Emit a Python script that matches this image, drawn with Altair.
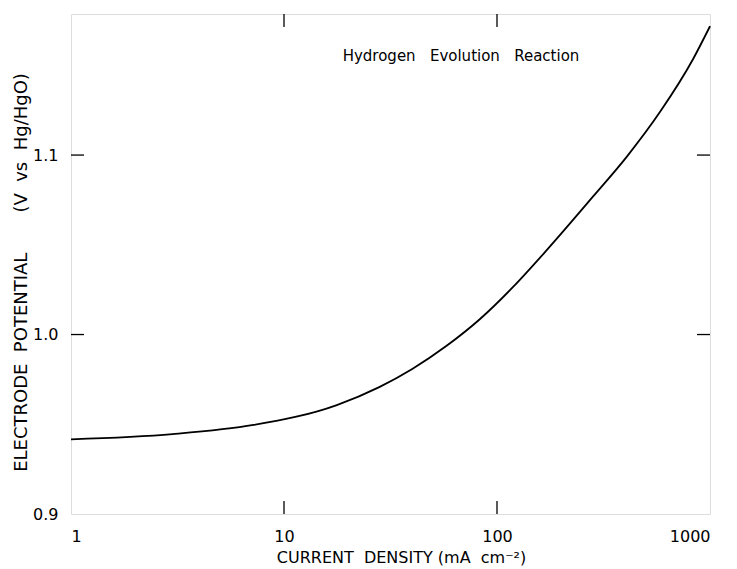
import altair as alt
import pandas as pd

# Curve (current density mA/cm2, potential V vs Hg/HgO)
current = [1, 3, 7.2, 17.7, 28, 40, 58, 83, 119, 172, 282, 408, 583, 832, 1000]
potential = [0.9416, 0.9445, 0.9496, 0.9607, 0.9707, 0.9808, 0.9937, 1.0085,
             1.0265, 1.0473, 1.0768, 1.0993, 1.1241, 1.1534, 1.1718]

x_tick_values = [1, 10, 100, 1000]
y_tick_values = [0.9, 1.0, 1.1]
x_inner_ticks = [10, 100]
y_inner_ticks = [1.0, 1.1]

NB = "\u00a0"
annotation = f"Hydrogen{NB*3}Evolution{NB*3}Reaction"
x_title = f"CURRENT{NB*2}DENSITY{NB}(mA{NB*2}cm\u207b\u00b2)"
y_title = (f"ELECTRODE{NB*2}POTENTIAL" + NB * 7 + f"(V{NB*2}vs{NB*2}Hg/HgO)")

W, H = 639, 500
FONT = "DejaVu Sans"

df = pd.DataFrame({"current": current, "potential": potential})
xt = pd.DataFrame({"x": x_inner_ticks})
yt = pd.DataFrame({"y": y_inner_ticks})

xscale = alt.Scale(type="log", domain=[1, 1000], nice=False)
yscale = alt.Scale(domain=[0.9, 1.1786], nice=False, zero=False)

line = alt.Chart(df).mark_line(color="black", strokeWidth=1.8, interpolate="monotone").encode(
    x=alt.X("current:Q", scale=xscale,
            axis=alt.Axis(values=x_tick_values, format="d", ticks=False, domain=False,
                          grid=False, labelPadding=14, labelFontSize=16, labelFont=FONT,
                          labelColor="black", title=x_title, titleFont=FONT,
                          titleFontSize=16, titleFontWeight="normal", titleColor="black",
                          titleX=330, titleY=43, titleBaseline="middle")),
    y=alt.Y("potential:Q", scale=yscale,
            axis=alt.Axis(values=y_tick_values, format=".1f", ticks=False, domain=False,
                          grid=False, labelPadding=13, labelFontSize=16, labelFont=FONT,
                          labelColor="black", title=y_title, titleFont=FONT,
                          titleFontSize=18, titleFontWeight="normal", titleColor="black",
                          titleX=-50, titleY=258, titleAngle=270, titleAlign="center",
                          titleBaseline="middle")),
)

tick_len = 13
bottom_ticks = alt.Chart(xt).mark_rule(color="black", strokeWidth=1.3).encode(
    x=alt.X("x:Q", scale=xscale), y=alt.value(H), y2=alt.value(H - tick_len))
top_ticks = alt.Chart(xt).mark_rule(color="black", strokeWidth=1.3).encode(
    x=alt.X("x:Q", scale=xscale), y=alt.value(0), y2=alt.value(tick_len))
left_ticks = alt.Chart(yt).mark_rule(color="black", strokeWidth=1.3).encode(
    y=alt.Y("y:Q", scale=yscale), x=alt.value(0), x2=alt.value(tick_len))
right_ticks = alt.Chart(yt).mark_rule(color="black", strokeWidth=1.3).encode(
    y=alt.Y("y:Q", scale=yscale), x=alt.value(W - tick_len), x2=alt.value(W))

label = alt.Chart(pd.DataFrame({"t": [annotation]})).mark_text(
    font=FONT, fontSize=15, color="black", align="center", baseline="middle"
).encode(text="t:N", x=alt.value(390), y=alt.value(42))

chart = alt.layer(line, bottom_ticks, top_ticks, left_ticks, right_ticks, label).properties(
    width=W, height=H,
    autosize=alt.AutoSizeParams(type="none"),
    padding={"left": 63, "top": 6, "right": 6, "bottom": 53},
).configure_view(stroke="black", strokeWidth=1.5).configure(background="white")

chart.save("out.html", embed_options={"renderer": "svg", "actions": False})
